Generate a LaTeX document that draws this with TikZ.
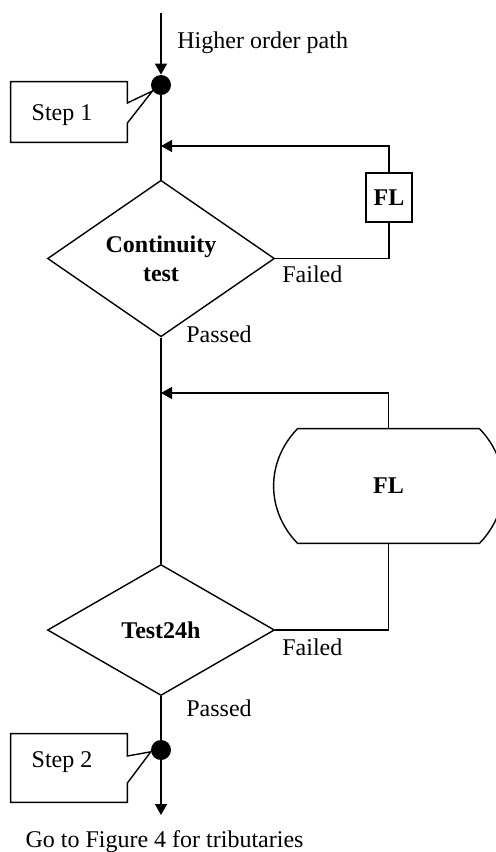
\documentclass[tikz,border=0pt]{standalone}
\usepackage{fontspec}
\setmainfont{Liberation Serif}
\usepackage{tikz}
\usetikzlibrary{shapes,shapes.geometric,arrows.meta,calc}

\begin{document}
\begin{tikzpicture}[x=0.5pt,y=-0.5pt,
	every node/.style={font=\fontsize{12pt}{14.5pt}\selectfont},
	line/.style={line width=0.7pt},
	arrow/.style={line width=0.7pt,-{Triangle[length=5.5pt,width=6pt]}},
	decision/.style={diamond, draw, line width=0.7pt, minimum width=113.5pt, minimum height=65.5pt, inner sep=0pt, align=center, font=\fontsize{12pt}{14.5pt}\selectfont\bfseries},
	flbox/.style={rectangle, draw, line width=0.7pt, minimum width=23pt, minimum height=24.5pt, inner sep=0pt, font=\fontsize{12pt}{14.5pt}\selectfont\bfseries},
	stepbox/.style={rectangle, inner sep=0pt, minimum width=58pt, minimum height=30pt},
	joint/.style={circle, fill, inner sep=0pt, minimum size=10pt},
	note/.style={inner sep=0pt, anchor=base west}]
	\useasboundingbox (0,0) rectangle (495,852);

	\coordinate (in) at (161,13);
	\node[joint] (J1) at (161,85) {};
	\node[note] (HOP) at (177,48) {Higher order path};
	\node[stepbox, text height=8pt, text depth=0pt] (S1) at (69,112) {Step 1\kern7pt};
	\node[decision] (CT) at (161,258.5) {Continuity\\test};
	\node[flbox] (FL1) at (389,197.5) {FL};
	\coordinate (M1) at (161,146);
	\node[note] (F1) at (282,282) {Failed};
	\node[note] (P1) at (186,342) {Passed};
	\coordinate (M2) at (161,393);
	\node[minimum width=90.5pt, minimum height=57pt, font=\fontsize{12pt}{14.5pt}\selectfont\bfseries] (FL2) at (388.5,486) {FL};
	\node[decision] (T24) at (161,630) {Test24h};
	\node[note] (F2) at (282,655) {Failed};
	\node[note] (P2) at (186,716) {Passed};
	\node[joint] (J2) at (161,750) {};
	\node[stepbox, minimum height=34pt, text height=8pt, text depth=9pt] (S2) at (69,768) {Step 2\kern7pt};
	\coordinate (out) at (161,815);
	\node[anchor=base] (GO) at (164.5,847) {Go to Figure 4 for tributaries};

	\draw[line] (S1.north west) -- (S1.north east) -- ($(S1.east)+(0,-9)$) -- (J1.215) -- ($(S1.east)+(0,11)$) -- (S1.south east) -- (S1.south west) -- cycle;
	\draw[line] (S2.north west) -- (S2.north east) -- ($(S2.east)+(0,-12)$) -- (J2.190) -- ($(S2.east)+(0,15)$) -- (S2.south east) -- (S2.south west) -- cycle;
	\draw[line] (FL2.north west) -- (FL2.north east)
		.. controls ($(FL2.north east)+(32,33)$) and ($(FL2.south east)+(32,-33)$) .. (FL2.south east)
		-- (FL2.south west)
		.. controls ($(FL2.south west)+(-32,-33)$) and ($(FL2.north west)+(-32,33)$) .. (FL2.north west) -- cycle;

	\draw[arrow] (in) -- (J1);
	\draw[line] (J1) -- (CT);
	\draw[line] (CT) -- (T24);
	\draw[line] (T24) -- (J2);
	\draw[arrow] (J2) -- (out);
	\draw[line] (CT.east) -| (FL1.south);
	\draw[arrow] (FL1.north) |- (M1);
	\draw[line] (T24.east) -| (FL2.south);
	\draw[arrow] (FL2.north) |- (M2);
\end{tikzpicture}
\end{document}
